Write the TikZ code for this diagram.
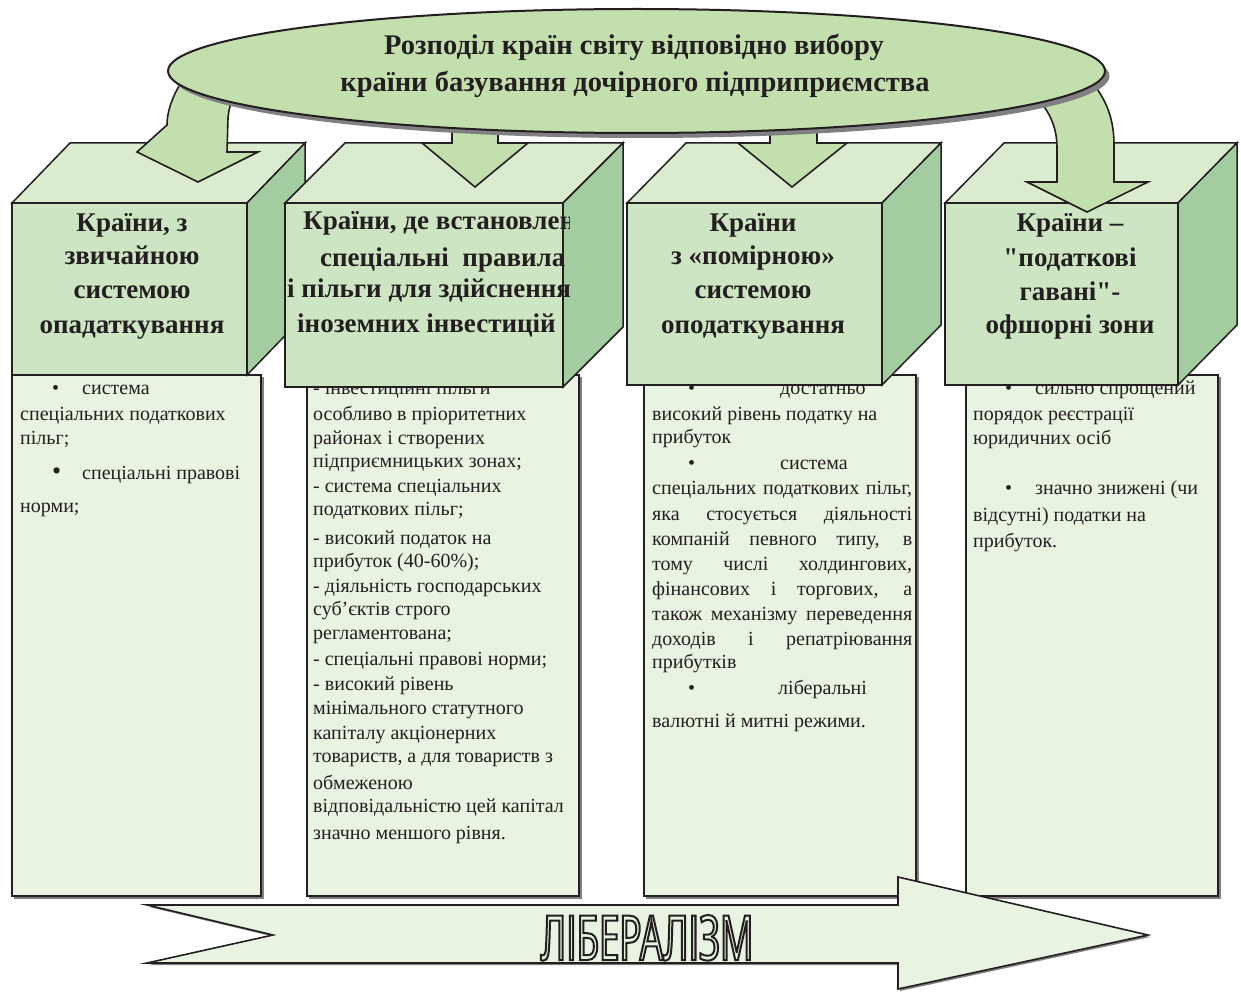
\documentclass[tikz,border=0pt]{standalone}
\usepackage{fontspec}
\setmainfont{Liberation Serif}[Ligatures=TeXOff]
\newfontfamily\libfont{Noto Sans}[FakeStretch=0.59]
\definecolor{ink}{RGB}{35,31,32}
\definecolor{ellfill}{RGB}{196,223,174}
\definecolor{cubefront}{RGB}{205,229,194}
\definecolor{cubetop}{RGB}{218,235,208}
\definecolor{cubeside}{RGB}{163,204,161}
\definecolor{boxfill}{RGB}{233,243,226}
\definecolor{shadowc}{RGB}{128,128,130}
\newcommand{\drawcube}[4]{%
  \draw[cubeline, fill=cubetop] (#1,203) -- ({#1+#4},143) -- ({#2+#4},143) -- (#2,203) -- cycle;
  \draw[cubeline, fill=cubeside] (#2,203) -- ({#2+#4},143) -- ({#2+#4},{#3-60}) -- (#2,#3) -- cycle;
  \draw[cubeline, fill=cubefront] (#1,203) rectangle (#2,#3);
}
\begin{document}
\begin{tikzpicture}[x=1pt,y=-1pt,line join=miter,
  cubeline/.style={draw=ink, line width=1.5pt},
  boxst/.style={draw=ink, line width=1.5pt, fill=boxfill},
  arrowst/.style={draw=ink, line width=1.6pt, fill=ellfill},
  hd/.style={font=\bfseries\fontsize{27}{33}\selectfont, text=ink, inner sep=0pt, anchor=base},
  hdl/.style={hd, anchor=base west},
  bt/.style={font=\fontsize{20}{24}\selectfont, text=ink, inner sep=0pt, anchor=mid west},
  ttl/.style={font=\bfseries\fontsize{28.5}{34}\selectfont, text=ink, inner sep=0pt, anchor=base},
  lib/.style={font=\libfont\fontsize{62}{62}\selectfont, inner sep=0pt, anchor=base}]
\useasboundingbox (0,0) rectangle (1241,992);
\fill[white] (0,0) rectangle (1241,992);

% ---------- text boxes ----------
\fill[shadowc] (14,377) rectangle (263.5,898.5);
\draw[boxst] (12,375) rectangle (261,896);
\fill[shadowc] (309,377) rectangle (581.5,898.5);
\draw[boxst] (307,375) rectangle (579,896);
\fill[shadowc] (646,377) rectangle (918.5,898.5);
\draw[boxst] (644,375) rectangle (916,896);
\fill[shadowc] (968,377) rectangle (1220.5,898.5);
\draw[boxst] (966,375) rectangle (1218,896);

% box 1
\node[bt] (a1) at (52,392) {•};
\node[bt] (a2) at (82,392) {система};
\node[bt] (a3) at (20,418) {спеціальних податкових};
\node[bt] (a4) at (20,442) {пільг;};
\node[bt, font=\fontsize{26}{26}\selectfont] (a5) at (52,477) {•};
\node[bt] (a6) at (82,477) {спеціальні правові};
\node[bt] (a7) at (20,510) {норми;};

% box 2
\node[bt] (b1) at (313,392) {- інвестиційні пільги};
\node[bt] (b2) at (313,418) {особливо в пріоритетних};
\node[bt] (b3) at (313,442) {районах і створених};
\node[bt] (b4) at (313,465) {підприємницьких зонах;};
\node[bt] (b5) at (313,490) {- система спеціальних};
\node[bt] (b6) at (313,513) {податкових пільг;};
\node[bt] (b7) at (313,542) {- високий податок на};
\node[bt] (b8) at (313,565) {прибуток (40-60\%);};
\node[bt] (b9) at (313,590) {- діяльність господарських};
\node[bt] (b10) at (313,613) {суб’єктів строго};
\node[bt] (b11) at (313,637) {регламентована;};
\node[bt] (b12) at (313,663) {- спеціальні правові норми;};
\node[bt] (b13) at (313,688) {- високий рівень};
\node[bt] (b14) at (313,712) {мінімального статутного};
\node[bt] (b15) at (313,737) {капіталу акціонерних};
\node[bt] (b16) at (313,760) {товариств, а для товариств з};
\node[bt] (b17) at (313,787) {обмеженою};
\node[bt] (b18) at (313,810) {відповідальністю цей капітал};
\node[bt] (b19) at (313,837) {значно меншого рівня.};

% box 3
\node[bt] (c1) at (688,392) {•};
\node[bt] (c2) at (780,392) {достатньо};
\node[bt] (c3) at (652,418) {високий рівень податку на};
\node[bt] (c4) at (652,441) {прибуток};
\node[bt] (c5) at (688,467) {•};
\node[bt] (c6) at (780,467) {система};
\node[bt] (c7) at (652,492) {\makebox[260pt][s]{спеціальних податкових пільг,}};
\node[bt] (c8) at (652,518) {\makebox[260pt][s]{яка стосується діяльності}};
\node[bt] (c9) at (652,543) {\makebox[260pt][s]{компаній певного типу, в}};
\node[bt] (c10) at (652,568) {\makebox[260pt][s]{тому числі холдингових,}};
\node[bt] (c11) at (652,593) {\makebox[260pt][s]{фінансових і торгових, а}};
\node[bt] (c12) at (652,618) {\makebox[260pt][s]{також механізму переведення}};
\node[bt] (c13) at (652,643) {\makebox[260pt][s]{доходів і репатріювання}};
\node[bt] (c14) at (652,666) {прибутків};
\node[bt] (c15) at (688,692) {•};
\node[bt] (c16) at (778,692) {ліберальні};
\node[bt] (c17) at (652,725) {валютні й митні режими.};

% box 4
\node[bt] (d1) at (1005,392) {•};
\node[bt] (d2) at (1035,392) {сильно спрощений};
\node[bt] (d3) at (973,418) {порядок реєстрації};
\node[bt] (d4) at (973,442) {юридичних осіб};
\node[bt] (d5) at (1005,492) {•};
\node[bt] (d6) at (1035,492) {значно знижені (чи};
\node[bt] (d7) at (973,519) {відсутні) податки на};
\node[bt] (d8) at (973,545) {прибуток.};

% ---------- cubes ----------
\drawcube{12}{247}{375}{58}
\drawcube{285}{563}{387}{60}
\drawcube{627}{882}{385}{59}
\drawcube{945}{1178}{385}{59}

% cube headings
\node[hd] (h11) at (132,232) {Країни, з};
\node[hd] (h12) at (132,265) {звичайною};
\node[hd] (h13) at (132,298) {системою};
\node[hd] (h14) at (132,333) {опадаткування};

\begin{scope}
\clip (285,195) rectangle (569,387);
\node[hdl] (h21) at (303,230) {Країни, де встановлені};
\node[hdl] (h22) at (320,266) {спеціальні\ \ правила};
\node[hdl] (h23) at (287,297) {і пільги для здійснення};
\node[hdl] (h24) at (297,332) {іноземних інвестицій};
\end{scope}

\node[hd] (h31) at (753,232) {Країни};
\node[hd] (h32) at (753,265) {з «помірною»};
\node[hd] (h33) at (753,298) {системою};
\node[hd] (h34) at (753,333) {оподаткування};

\node[hd] (h41) at (1070,232) {Країни –};
\node[hd] (h42) at (1070,266) {"податкові};
\node[hd] (h43) at (1070,300) {гавані"-};
\node[hd] (h44) at (1070,333) {офшорні зони};

% ---------- arrows from ellipse ----------
\draw[arrowst] (137,152) -- (198,182) -- (258,152) -- (227,152) -- (228,118)
  .. controls (229,105) and (233,96) .. (242,86) -- (190,70)
  .. controls (174,90) and (167,110) .. (167,125) -- cycle;
\draw[arrowst] (422,143) -- (475,187) -- (528,143) -- (498,143) -- (498,110) -- (452,110) -- (452,143) -- cycle;
\draw[arrowst] (738,143) -- (792,187) -- (847,143) -- (817,143) -- (817,110) -- (770,110) -- (770,143) -- cycle;
\draw[arrowst] (1027,182) -- (1087,212) -- (1148,182) -- (1114,182) -- (1114,145)
  .. controls (1114,118) and (1106,100) .. (1092,82) -- (1035,95)
  .. controls (1048,110) and (1057,125) .. (1057,148) -- (1057,182) -- cycle;

% ---------- ellipse ----------
\fill[shadowc] (641,76) ellipse [x radius=468.5pt, y radius=62pt];
\draw[draw=ink, line width=2pt, fill=ellfill] (636.5,71) ellipse [x radius=468.5pt, y radius=62pt];
\node[ttl] (t1) at (634,55) {Розподіл країн світу відповідно вибору};
\node[ttl] (t2) at (635,92) {країни базування дочірного підприприємства};

% ---------- bottom arrow ----------
\fill[shadowc] (149,907) -- (900,907) -- (900,879) -- (1150,937) -- (900,991) -- (900,965) -- (149,965) -- (275,937) -- cycle;
\draw[draw=ink, line width=1.6pt, fill=boxfill] (147,905) -- (898,905) -- (898,877) -- (1148,935) -- (898,989) -- (898,963) -- (147,963) -- (273,935) -- cycle;
\node[lib, text=ink] (libt) at (647,960) {\special{pdf:literal direct 1 Tr 2 w}ЛІБЕРАЛІЗМ\special{pdf:literal direct 0 Tr 1 w}};
\end{tikzpicture}
\end{document}
